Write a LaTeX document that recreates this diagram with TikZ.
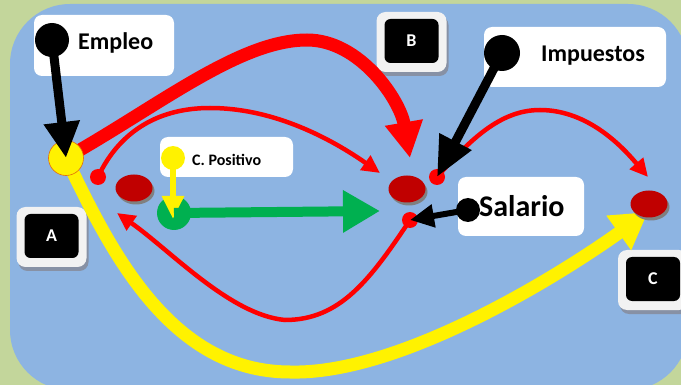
\documentclass[tikz,border=0pt]{standalone}
\usepackage{fontspec}
\setmainfont{Carlito}
\usetikzlibrary{arrows.meta,shapes.geometric,shadows}
\definecolor{bggreen}{RGB}{195,214,155}
\definecolor{bgblue}{RGB}{141,180,226}
\definecolor{dred}{RGB}{192,0,0}
\definecolor{grn}{RGB}{0,176,80}
\definecolor{boxgray}{RGB}{242,242,242}
\definecolor{shad}{RGB}{135,145,165}
\definecolor{orangeline}{RGB}{228,108,10}
\newcommand\letterbox[4]{%
  \fill[shad, rounded corners=9pt] (#2-33,#3-26) rectangle (#2+37,#3+34);
  \node[outerbox] (#1o) at (#2,#3) {};
  \node[innerbox] (#1) at (#2,#3-1) {#4};
}
\begin{document}
\begin{tikzpicture}[x=1pt,y=-1pt,
  wbox/.style={fill=white, rounded corners=8pt, inner sep=0pt, rectangle},
  outerbox/.style={fill=boxgray, rounded corners=9pt, minimum width=70pt, minimum height=60pt, inner sep=0pt},
  innerbox/.style={fill=black, rounded corners=6pt, minimum width=54pt, minimum height=44pt, inner sep=0pt, text=white, font=\fontsize{18}{18}\selectfont\bfseries},
  dot/.style={circle, inner sep=0pt, minimum size=#1},
  redell/.style={ellipse, fill=dred, minimum width=37pt, minimum height=27pt, inner sep=0pt, drop shadow={shadow xshift=2pt, shadow yshift=-3pt, fill=black!50, opacity=1}},
  lbl/.style={anchor=base west, inner sep=0pt, font=\fontsize{#1}{#1}\selectfont\bfseries},
  thinred/.style={draw=red, line width=4.5pt, -{Triangle[length=18pt,width=17pt]}},
  thickred/.style={draw=red, line width=13pt, -{Triangle[length=36pt,width=36pt]}},
  thickyel/.style={draw=yellow, line width=13pt, -{Triangle[length=36pt,width=40pt]}},
]
\useasboundingbox (0,0) rectangle (681,385);
\fill[bggreen] (0,0) rectangle (681,385);
\fill[bgblue, rounded corners=60pt] (10,4) rectangle (688,390);

% label boxes
\node[wbox, minimum width=140pt, minimum height=61pt] (empleoBox) at (104,45.5) {};
\node[wbox, minimum width=182pt, minimum height=60pt] (impBox) at (575,57) {};
\node[wbox, minimum width=133pt, minimum height=40pt] (cposBox) at (226.5,157) {};
\node[wbox, minimum width=126pt, minimum height=59pt] (salBox) at (521,206.5) {};
\node[lbl=24] (empleoTxt) at (78,50) {Empleo};
\node[lbl=24] (impTxt) at (541,62) {Impuestos};
\node[lbl=16] (cposTxt) at (192,166) {C. Positivo};
\node[lbl=30] (salTxt) at (479,217) {Salario};

\letterbox{boxA}{51.5}{237}{A}
\letterbox{boxB}{411.5}{42}{B}
\letterbox{boxC}{653}{280}{C}

% points
\coordinate (tipB) at (410,158);
\coordinate (tipB2) at (380,173);
\coordinate (tipC) at (648,177);
\coordinate (tipA) at (117,213);
\coordinate (tipCy) at (648,212);
\coordinate (tipG) at (380,211);
\coordinate (tipY) at (173,219);

\node[dot=35pt] (ycirc) at (66,158) {};
\node[dot=16pt] (rdotL) at (98,177) {};
\node[dot=16pt] (rdotUR) at (437,177) {};
\node[dot=16pt] (rdotLR) at (410,220) {};

% curves
\draw[thickyel] (ycirc.center) .. controls (110,250) and (170,372) .. (290,372)
   .. controls (400,375) and (560,275) .. (tipCy);
\draw[thickred] (ycirc.center) .. controls (160,105) and (240,40) .. (307,40)
   .. controls (360,40) and (400,100) .. (tipB);
\draw[thinred] (rdotL.center) .. controls (120,130) and (160,108) .. (210,108)
   .. controls (280,108) and (340,145) .. (tipB2);
\draw[thinred] (rdotUR.center) .. controls (470,140) and (500,110) .. (540,110)
   .. controls (590,110) and (625,150) .. (tipC);
\draw[thinred] (rdotLR.center) .. controls (370,280) and (340,320) .. (285,320)
   .. controls (230,315) and (170,250) .. (tipA);

% ellipses
\node[redell] (ellA) at (134,188) {};
\node[redell] (ellB) at (407,189) {};
\node[redell] (ellC) at (649,204) {};

% dots
\fill[red] (rdotL) circle (8pt) (rdotUR) circle (8pt) (rdotLR) circle (8pt);
\node[dot=35pt, fill=yellow, draw=orangeline, line width=0.6pt] (ycircTop) at (ycirc) {};
\node[dot=34pt, fill=black] (empleoDot) at (52,40) {};
\node[dot=36pt, fill=black] (impDot) at (502,53) {};
\node[dot=24pt, fill=yellow] (cposDot) at (173,158) {};
\node[dot=34pt, fill=grn] (greenDot) at (174,213) {};
\node[dot=24pt, fill=black] (salDot) at (468,210) {};

% straight arrows
\draw[black, line width=9pt, -{Triangle[length=36pt,width=34pt]}] (empleoDot.center) -- (ycirc.center);
\draw[black, line width=9pt, -{Triangle[length=40pt,width=34pt]}] (impDot.center) -- (rdotUR.center);
\draw[black, line width=6pt, -{Triangle[length=24pt,width=22pt]}] (salDot.center) -- (rdotLR.center);
\draw[yellow, line width=6pt, -{Triangle[length=23pt,width=21pt]}] (cposDot.center) -- (tipY);
\draw[grn, line width=10pt, -{Triangle[length=37pt,width=40pt]}] (greenDot.center) -- (tipG);
\end{tikzpicture}
\end{document}
